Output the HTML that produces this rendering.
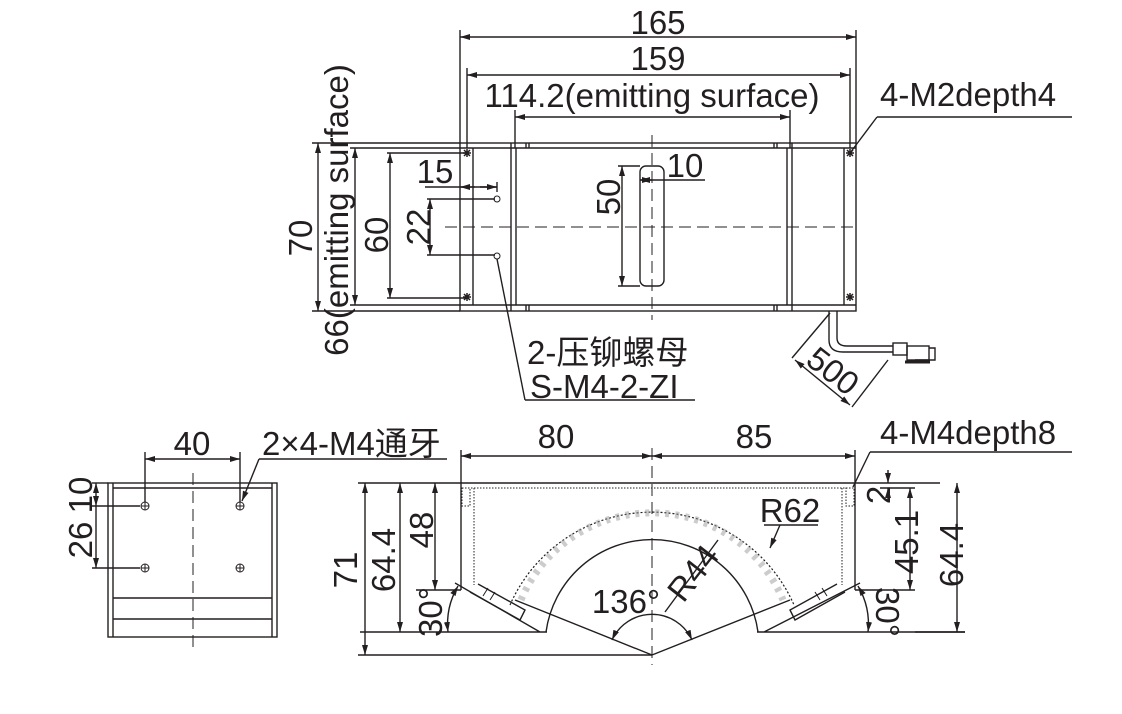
<!DOCTYPE html>
<html><head><meta charset="utf-8"><style>
html,body{margin:0;padding:0;background:#fff}
svg{display:block}
text{font-family:"Liberation Sans","Noto Sans CJK SC",sans-serif;fill:#231f20}
</style></head><body>
<svg width="1122" height="714" viewBox="0 0 1122 714" xmlns="http://www.w3.org/2000/svg">
<defs>
<marker id="a" viewBox="0 0 10 6" refX="10" refY="3" markerWidth="10" markerHeight="6" orient="auto-start-reverse" markerUnits="userSpaceOnUse"><path d="M0,0L10,3L0,6z" fill="#231f20"/></marker>
</defs>
<g stroke="#231f20" stroke-width="1.4" fill="none">
<!-- TOP VIEW -->
<line x1="460" y1="30" x2="460" y2="143"/><line x1="856" y1="30" x2="856" y2="143"/>
<line x1="460" y1="37" x2="856" y2="37" marker-start="url(#a)" marker-end="url(#a)"/>
<line x1="467" y1="68" x2="467" y2="148"/><line x1="850" y1="68" x2="850" y2="148"/>
<line x1="467" y1="75" x2="850" y2="75" marker-start="url(#a)" marker-end="url(#a)"/>
<line x1="515" y1="110" x2="515" y2="148"/><line x1="790" y1="110" x2="790" y2="148"/>
<line x1="515" y1="117" x2="790" y2="117" marker-start="url(#a)" marker-end="url(#a)"/>
<rect x="460" y="143" width="396" height="168"/>
<line x1="460" y1="148" x2="856" y2="148"/><line x1="460" y1="305" x2="856" y2="305"/>
<line x1="473" y1="148" x2="473" y2="305"/><line x1="511" y1="143" x2="511" y2="311"/><line x1="516" y1="148" x2="516" y2="305"/>
<line x1="787" y1="148" x2="787" y2="305"/><line x1="792" y1="143" x2="792" y2="311"/><line x1="844" y1="148" x2="844" y2="305"/>
<line x1="526" y1="143" x2="526" y2="148"/><line x1="529" y1="143" x2="529" y2="148"/><line x1="774" y1="143" x2="774" y2="148"/><line x1="777" y1="143" x2="777" y2="148"/>
<line x1="526" y1="305" x2="526" y2="311"/><line x1="529" y1="305" x2="529" y2="311"/><line x1="774" y1="305" x2="774" y2="311"/><line x1="777" y1="305" x2="777" y2="311"/>
<line x1="445" y1="227" x2="856" y2="227" stroke-dasharray="12,6" stroke-width="1"/>
<line x1="652" y1="135" x2="652" y2="320" stroke-dasharray="12,6" stroke-width="1"/>
<rect x="640" y="166" width="24" height="120" rx="6"/>
<line x1="618" y1="166" x2="640" y2="166"/><line x1="618" y1="286" x2="640" y2="286"/>
<line x1="622" y1="166" x2="622" y2="286" marker-start="url(#a)" marker-end="url(#a)"/>
<line x1="640" y1="180" x2="705" y2="180" marker-start="url(#a)"/>
<line x1="640" y1="180" x2="652" y2="180" marker-end="url(#a)"/>
<line x1="312" y1="143" x2="460" y2="143"/><line x1="312" y1="311" x2="460" y2="311"/>
<line x1="318" y1="143" x2="318" y2="311" marker-start="url(#a)" marker-end="url(#a)"/>
<line x1="350" y1="148" x2="460" y2="148"/><line x1="350" y1="305" x2="460" y2="305"/>
<line x1="355" y1="148" x2="355" y2="305" marker-start="url(#a)" marker-end="url(#a)"/>
<line x1="387" y1="153" x2="467" y2="153"/><line x1="387" y1="298" x2="467" y2="298"/>
<line x1="390" y1="153" x2="390" y2="298" marker-start="url(#a)" marker-end="url(#a)"/>
<line x1="427" y1="199" x2="495" y2="199"/><line x1="427" y1="255" x2="495" y2="255"/>
<line x1="430" y1="199" x2="430" y2="255" marker-start="url(#a)" marker-end="url(#a)"/>
<line x1="425" y1="187" x2="497" y2="187"/><line x1="497" y1="182" x2="497" y2="192"/>
<line x1="460" y1="187" x2="475" y2="187" marker-start="url(#a)"/><line x1="480" y1="187" x2="497" y2="187" marker-end="url(#a)"/>
<circle cx="497" cy="199" r="3" stroke-width="1"/><circle cx="497" cy="256" r="3" stroke-width="1"/>
<line x1="497" y1="259" x2="525" y2="400"/><line x1="525" y1="400" x2="695" y2="400"/>
<g stroke-width="1.5"><path d="M463,153h8M467,149v8M464,150l6,6M470,150l-6,6"/><path d="M463,297h8M467,293v8M464,294l6,6M470,294l-6,6"/><path d="M846,153h8M850,149v8M847,150l6,6M853,150l-6,6"/><path d="M846,297h8M850,293v8M847,294l6,6M853,294l-6,6"/></g>
<line x1="850" y1="153" x2="877" y2="117"/><line x1="877" y1="117" x2="1072" y2="117"/>
<path d="M829,311V340q0,12 14,12H893"/><path d="M837,311V338q0,8 10,8H893"/>
<rect x="893" y="343" width="14" height="12"/><rect x="907" y="346" width="22" height="14"/><path d="M915,360h20v-12h-6"/>
<line x1="905" y1="362" x2="930" y2="362" stroke-width="3"/>
<line x1="830" y1="313" x2="792" y2="358"/><line x1="888" y1="360" x2="852" y2="407"/>
<line x1="795" y1="360" x2="850" y2="405" marker-start="url(#a)" marker-end="url(#a)"/>
<!-- BOTTOM LEFT VIEW -->
<rect x="108" y="483" width="169" height="154"/>
<line x1="113" y1="483" x2="113" y2="637"/><line x1="272" y1="483" x2="272" y2="637"/>
<line x1="113" y1="488" x2="272" y2="488"/><line x1="113" y1="598" x2="272" y2="598"/><line x1="113" y1="619" x2="272" y2="619"/>
<line x1="193" y1="473" x2="193" y2="648" stroke-dasharray="12,6" stroke-width="1"/>
<g stroke-width="1"><circle cx="145" cy="506" r="4"/><circle cx="240" cy="506" r="4"/><circle cx="145" cy="568" r="4"/><circle cx="240" cy="568" r="4"/>
<path d="M141,506h8M145,502v8M236,506h8M240,502v8M141,568h8M145,564v8M236,568h8M240,564v8"/></g>
<line x1="145" y1="452" x2="145" y2="502"/><line x1="240" y1="452" x2="240" y2="502"/>
<line x1="145" y1="459" x2="240" y2="459" marker-start="url(#a)" marker-end="url(#a)"/>
<line x1="242" y1="501" x2="259" y2="459" marker-start="url(#a)"/><line x1="259" y1="459" x2="447" y2="459"/>
<line x1="92" y1="483" x2="108" y2="483"/><line x1="92" y1="506" x2="140" y2="506"/><line x1="92" y1="568" x2="140" y2="568"/>
<line x1="96" y1="483" x2="96" y2="506" marker-start="url(#a)" marker-end="url(#a)"/>
<line x1="96" y1="506" x2="96" y2="568" marker-end="url(#a)"/>
<!-- BOTTOM RIGHT VIEW -->
<line x1="358" y1="483" x2="940" y2="483"/>
<line x1="461" y1="450" x2="461" y2="590"/><line x1="855" y1="450" x2="855" y2="590"/>
<line x1="652" y1="448" x2="652" y2="665" stroke-dasharray="12,6" stroke-width="1"/>
<line x1="461" y1="456" x2="652" y2="456" marker-start="url(#a)" marker-end="url(#a)"/>
<line x1="652" y1="456" x2="855" y2="456" marker-start="url(#a)" marker-end="url(#a)"/>
<line x1="465" y1="488" x2="851" y2="488" stroke-dasharray="1.5,1.5" stroke-width="1"/>
<line x1="474" y1="488" x2="474" y2="585" stroke-dasharray="1.5,1.5" stroke-width="1"/>
<line x1="842" y1="488" x2="842" y2="585" stroke-dasharray="1.5,1.5" stroke-width="1"/>
<rect x="462" y="488" width="8" height="18" stroke-dasharray="1.5,1.5" stroke-width="1"/>
<rect x="846" y="488" width="8" height="18" stroke-dasharray="1.5,1.5" stroke-width="1"/>
<line x1="416" y1="590" x2="461" y2="590"/><line x1="855" y1="590" x2="915" y2="590"/>
<path d="M455,583L540,632M360,632H547"/><path d="M757,632H965M860,583L764,632"/>
<path d="M470,592L520,620L525,610L478,584"/><path d="M845,592L795,620L790,610L837,584"/>
<path d="M483,596l5,-8M490,600l5,-8M827,596l-5,-8M820,600l-5,-8" stroke-width="1"/>
<line x1="652" y1="655" x2="515" y2="600"/><line x1="652" y1="655" x2="790" y2="600"/>
<path d="M546,632A107,107 0 0 1 758,632"/>
<path d="M510,605A155,155 0 0 1 794,605" stroke-dasharray="2,2" stroke-width="1.2"/>
<path d="M521,600A142,142 0 0 1 783,600" stroke-dasharray="4,6" stroke-width="7" stroke="#9a9a9a" opacity="0.5"/>
<path d="M612,640A44,44 0 0 1 692,640" marker-start="url(#a)" marker-end="url(#a)"/>
<line x1="665" y1="612" x2="718" y2="540"/>
<line x1="770" y1="548" x2="780" y2="525" marker-start="url(#a)"/><line x1="764" y1="525" x2="818" y2="525"/>
<line x1="358" y1="655" x2="652" y2="655"/>
<line x1="365" y1="483" x2="365" y2="655" marker-start="url(#a)" marker-end="url(#a)"/>
<line x1="400" y1="483" x2="400" y2="632" marker-start="url(#a)" marker-end="url(#a)"/>
<line x1="435" y1="483" x2="435" y2="590" marker-start="url(#a)" marker-end="url(#a)"/>
<path d="M458,586A75,75 0 0 0 448,632" marker-start="url(#a)" marker-end="url(#a)"/>
<path d="M858,586A75,75 0 0 1 868,632" marker-start="url(#a)" marker-end="url(#a)"/>
<line x1="915" y1="632" x2="965" y2="632"/>
<line x1="957" y1="483" x2="957" y2="632" marker-start="url(#a)" marker-end="url(#a)"/>
<line x1="910" y1="488" x2="910" y2="590" marker-start="url(#a)" marker-end="url(#a)"/>
<line x1="880" y1="488" x2="915" y2="488"/>
<line x1="888" y1="470" x2="888" y2="483" marker-end="url(#a)"/><line x1="888" y1="502" x2="888" y2="488" marker-end="url(#a)"/>
<line x1="853" y1="487" x2="870" y2="452"/><line x1="870" y1="452" x2="1072" y2="452"/>
</g>
<g font-size="33">
<text x="658" y="34" text-anchor="middle">165</text>
<text x="658" y="70" text-anchor="middle">159</text>
<text x="652" y="107" text-anchor="middle">114.2(emitting surface)</text>
<text x="880" y="106">4-M2depth4</text>
<text x="435" y="183" text-anchor="middle">15</text>
<text x="685" y="177" text-anchor="middle">10</text>
<text transform="translate(620,197) rotate(-90)" text-anchor="middle">50</text>
<text transform="translate(430,227) rotate(-90)" text-anchor="middle">22</text>
<text transform="translate(388,235) rotate(-90)" text-anchor="middle">60</text>
<text transform="translate(312,238) rotate(-90)" text-anchor="middle">70</text>
<text transform="translate(348,210) rotate(-90)" text-anchor="middle">66(emitting surface)</text>
<text x="527" y="364">2-压铆螺母</text>
<text x="530" y="398">S-M4-2-ZI</text>
<text transform="translate(826,380) rotate(38)" text-anchor="middle">500</text>
<text x="192" y="455" text-anchor="middle">40</text>
<text x="262" y="455">2×4-M4通牙</text>
<text transform="translate(92,495) rotate(-90)" text-anchor="middle">10</text>
<text transform="translate(92,540) rotate(-90)" text-anchor="middle">26</text>
<text x="556" y="448" text-anchor="middle">80</text>
<text x="754" y="448" text-anchor="middle">85</text>
<text x="880" y="444">4-M4depth8</text>
<text transform="translate(357,570) rotate(-90)" text-anchor="middle">71</text>
<text transform="translate(395,560) rotate(-90)" text-anchor="middle">64.4</text>
<text transform="translate(433,530) rotate(-90)" text-anchor="middle">48</text>
<text transform="translate(442,612) rotate(-90)" text-anchor="middle">30°</text>
<text transform="translate(876,612) rotate(90)" text-anchor="middle">30°</text>
<text transform="translate(890,495) rotate(-90)" text-anchor="middle">2</text>
<text transform="translate(918,542) rotate(-90)" text-anchor="middle">45.1</text>
<text transform="translate(963,555) rotate(-90)" text-anchor="middle">64.4</text>
<text x="626" y="613" text-anchor="middle">136°</text>
<text transform="translate(702,580) rotate(-52)" text-anchor="middle">R44</text>
<text x="790" y="522" text-anchor="middle">R62</text>
</g>
</svg>
</body></html>
